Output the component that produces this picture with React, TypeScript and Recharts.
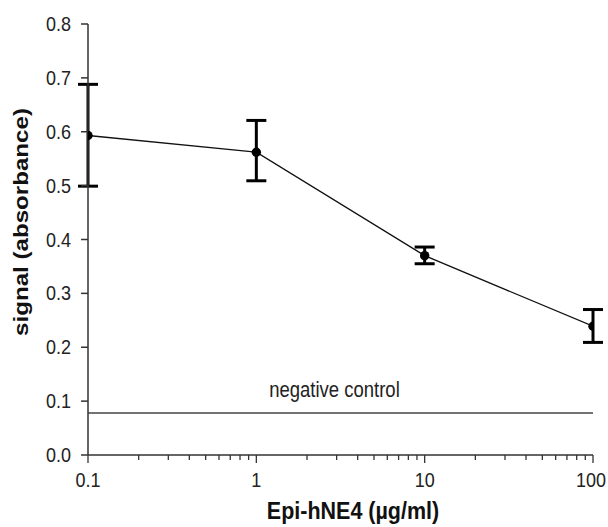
import React from "react";
import {
  LineChart,
  Line,
  XAxis,
  YAxis,
  ErrorBar,
  ReferenceLine,
} from "recharts";

const concentrations = [0.1, 1, 10, 100];
const signal = [0.593, 0.562, 0.37, 0.239];
const errBelow = [0.094, 0.053, 0.015, 0.03];
const errAbove = [0.095, 0.059, 0.016, 0.031];
const negativeControl = 0.078;

const majorTicks = [0.1, 1, 10, 100];
const minorTicks = [
  0.2, 0.3, 0.4, 0.5, 0.6, 0.7, 0.8, 0.9,
  2, 3, 4, 5, 6, 7, 8, 9,
  20, 30, 40, 50, 60, 70, 80, 90,
];
const yTicks = [0, 0.1, 0.2, 0.3, 0.4, 0.5, 0.6, 0.7, 0.8];

const data = concentrations.map((c, i) => ({
  conc: c,
  signal: signal[i],
  err: [errBelow[i], errAbove[i]],
}));

const FONT = "'Liberation Sans', Arial, sans-serif";
const AXIS = "#333";
// the reference figure is a bit taller than wide, text included
const STRETCH = 1.15;

const SText = ({ x, y, anchor = "middle", size, bold, rotate, children }: any) => (
  <text
    transform={`translate(${x},${y}) scale(1,${STRETCH})${rotate ? " rotate(-90)" : ""}`}
    textAnchor={anchor}
    fontFamily={FONT}
    fontSize={size}
    fontWeight={bold ? "bold" : "normal"}
    fill={bold ? "#111" : "#222"}
  >
    {children}
  </text>
);

const XTick = (props: any) => {
  const { x, y, payload } = props;
  const major = majorTicks.includes(payload.value);
  return (
    <g>
      <line
        x1={x}
        x2={x}
        y1={y}
        y2={y + (major ? 8 : 5)}
        stroke={AXIS}
        strokeWidth={1.3}
      />
      {major && (
        <SText x={payload.value === 100 ? x - 2 : x} y={y + 32} size={18}>
          {String(payload.value)}
        </SText>
      )}
    </g>
  );
};

const YTick = (props: any) => {
  const { x, y, payload } = props;
  return (
    <SText x={x} y={y + 7} anchor="end" size={18}>
      {payload.value.toFixed(1)}
    </SText>
  );
};

export default function App() {
  return (
    <div style={{ position: "absolute", left: 0, top: 0 }}>
      <LineChart
        width={608}
        height={527}
        data={data}
        margin={{ top: 24, right: 15, left: 0, bottom: 0 }}
      >
        <XAxis
          dataKey="conc"
          type="number"
          scale="log"
          domain={[0.1, 100]}
          allowDataOverflow
          ticks={[...majorTicks, ...minorTicks].sort((a, b) => a - b)}
          interval={0}
          tick={<XTick />}
          tickLine={false}
          tickSize={0}
          tickMargin={0}
          height={72}
          stroke={AXIS}
          strokeWidth={1.5}
          label={{
            content: () => (
              <SText x={353} y={519} size={21.5} bold>
                Epi-hNE4 (µg/ml)
              </SText>
            ),
          }}
        />
        <YAxis
          type="number"
          domain={[0, 0.8]}
          ticks={yTicks}
          interval={0}
          width={88}
          tickSize={7}
          tickMargin={10}
          tick={<YTick />}
          stroke={AXIS}
          strokeWidth={1.5}
          label={{
            content: () => (
              <SText x={28} y={222} size={21} bold rotate>
                signal (absorbance)
              </SText>
            ),
          }}
        />
        <ReferenceLine
          y={negativeControl}
          stroke="#444"
          strokeWidth={1.5}
          label={{
            content: (p: any) => {
              const vb = p.viewBox || {};
              return (
                <SText
                  x={(vb.x ?? 88) + (vb.width ?? 505) / 2 - 6}
                  y={(vb.y ?? 415) - 16}
                  size={18.5}
                >
                  negative control
                </SText>
              );
            },
          }}
        />
        <Line
          dataKey="signal"
          stroke="#111"
          strokeWidth={1.3}
          dot={{ r: 4.7, fill: "#000", stroke: "#000", strokeWidth: 0 }}
          activeDot={false}
          isAnimationActive={false}
        >
          <ErrorBar
            dataKey="err"
            direction="y"
            width={10}
            strokeWidth={3}
            stroke="#000"
            isAnimationActive={false}
          />
        </Line>
      </LineChart>
    </div>
  );
}
